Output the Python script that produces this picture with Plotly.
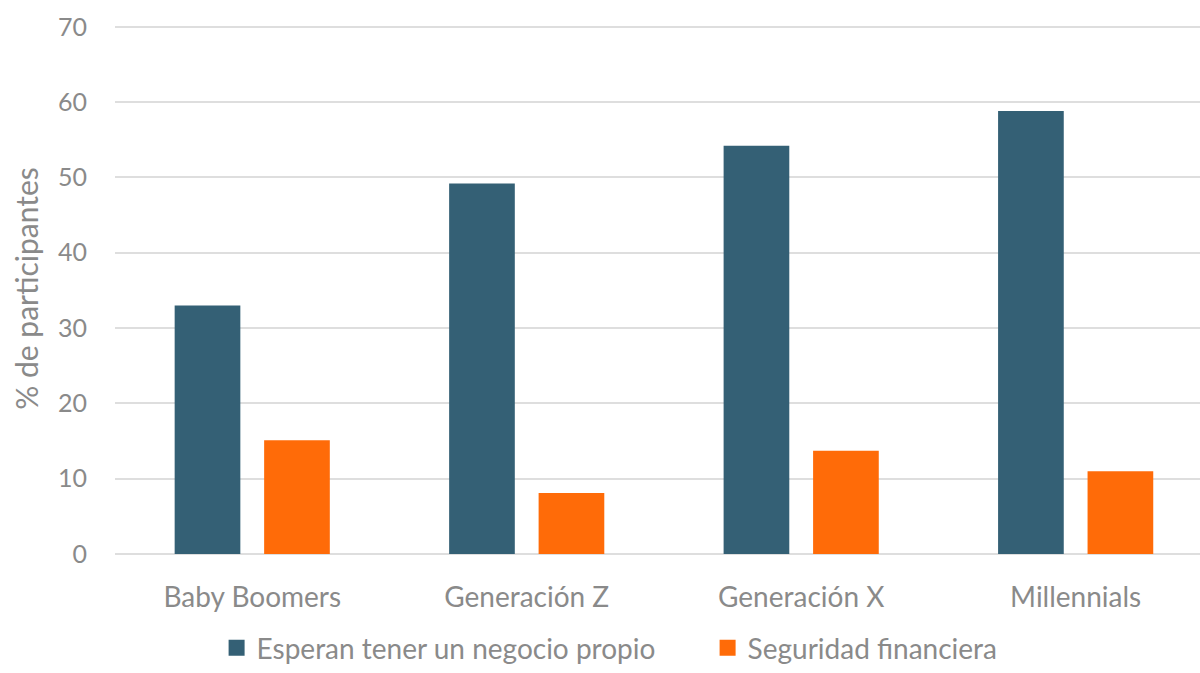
import plotly.graph_objects as go

categories = ["Baby Boomers", "Generación Z", "Generación X", "Millennials"]
negocio_propio = [33.0, 49.2, 54.2, 58.8]
seguridad_financiera = [15.1, 8.1, 13.7, 11.0]
series_names = ["Esperan tener un negocio propio", "Seguridad financiera"]
y_ticks = [0, 10, 20, 30, 40, 50, 60, 70]

DARK = "#346075"
ORANGE = "#FF6B08"
GRAY = "#8a8a8a"
FONT = "Lato"

fig = go.Figure()
fig.add_trace(go.Bar(x=categories, y=negocio_propio, name=series_names[0],
                     marker=dict(color=DARK, line=dict(width=0)), showlegend=False))
fig.add_trace(go.Bar(x=categories, y=seguridad_financiera, name=series_names[1],
                     marker=dict(color=ORANGE, line=dict(width=0)), showlegend=False))
# legend proxies with larger square symbols
fig.add_trace(go.Scatter(x=[None], y=[None], mode="markers", name=series_names[0],
                         marker=dict(symbol="square", size=16, color=DARK)))
fig.add_trace(go.Scatter(x=[None], y=[None], mode="markers", name=series_names[1],
                         marker=dict(symbol="square", size=16, color=ORANGE)))

fig.update_layout(
    width=1200, height=673,
    margin=dict(l=115, r=0, t=23, b=119),
    paper_bgcolor="white", plot_bgcolor="white",
    barmode="group", bargap=0.348, bargroupgap=0.266,
    font=dict(family=FONT, color=GRAY, size=25),
    legend=dict(orientation="h", x=0.1805, xref="container", xanchor="left",
                y=-0.008, yref="container", yanchor="bottom",
                font=dict(size=28, color=GRAY), itemwidth=30,
                tracegroupgap=0, entrywidth=446, entrywidthmode="pixels",
                bgcolor="rgba(0,0,0,0)"),
)
fig.update_xaxes(range=[-0.5, 3.453], showgrid=False, showline=False, zeroline=False,
                 ticks="", ticklabelstandoff=24, tickfont=dict(size=28, color=GRAY),
                 fixedrange=True)
fig.update_yaxes(range=[0, 70.5], tickvals=y_ticks, showgrid=True, gridcolor="#dedede",
                 gridwidth=1.6, zeroline=True, zerolinecolor="#dedede", zerolinewidth=1.6,
                 showline=False, ticks="", ticklabelstandoff=27,
                 tickfont=dict(size=25, color=GRAY),
                 title=dict(text="% de participantes", font=dict(size=30, color=GRAY), standoff=10),
                 automargin=False)

fig.write_html("out.html")
